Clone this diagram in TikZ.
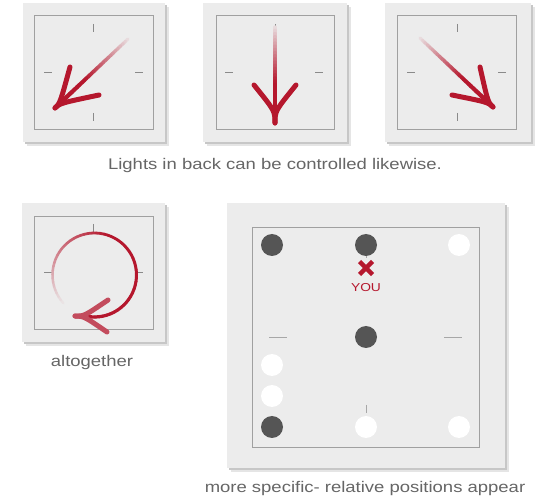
\documentclass[tikz,border=0pt]{standalone}
\usepackage{fontspec}
\setmainfont[FakeStretch=1.2]{Liberation Sans}
\usetikzlibrary{calc}
\definecolor{plate}{HTML}{ECECEC}
\definecolor{arrowred}{HTML}{B5172D}
\definecolor{txt}{HTML}{666666}
\definecolor{frame}{HTML}{A0A0A0}
\definecolor{tickc}{HTML}{8A8A8A}
\definecolor{dotdark}{HTML}{555555}
\tikzset{
  platebox/.style={fill=plate},
  shadowA/.style={fill=black!10},
  shadowB/.style={fill=black!22},
  innerbox/.style={draw=frame, line width=0.6pt},
  tickline/.style={draw=tickc, line width=0.8pt},
  armline/.style={draw=arrowred, line width=5pt, line cap=round},
  caption/.style={text=txt, font=\fontsize{15.4}{18}\selectfont, anchor=base},
  darkdot/.style={circle, fill=dotdark, minimum size=22pt, inner sep=0pt},
  whitedot/.style={circle, fill=white, minimum size=22pt, inner sep=0pt},
}
% fading straight shaft from #1 (faint) to #2 (red)
\newcommand\fadeshaft[2]{%
  \foreach \k in {0,...,29}{%
    \pgfmathsetmacro\mypc{min(100,8+\k/29*92/0.6)}%
    \pgfmathsetmacro\mylw{3.2+\k*0.04}%
    \draw[line width=\mylw pt, color=arrowred!\mypc!plate, line cap=round]
      ($(#1)!\k/30!(#2)$) -- ($(#1)!{(\k+1)/30}!(#2)$);
  }}
% barbed head: tip #2, tail #3, arm ends #4 and #5, control distance #6
\newcommand\barbs[6][]{%
  \draw[armline,#1] (#2) .. controls ($(#2)!#6!(#3)$) .. (#4);
  \draw[armline,#1] (#2) .. controls ($(#2)!#6!(#3)$) .. (#5);}
\newcommand\plateat[4]{%
  \fill[shadowA] (#1+4,#2+4) rectangle (#3+4,#4+4);
  \fill[shadowB] (#1+2,#2+2) rectangle (#3+2,#4+2);
  \fill[platebox] (#1,#2) rectangle (#3,#4);}
\begin{document}
\begin{tikzpicture}[x=1pt,y=-1pt]
\useasboundingbox[fill=white] (0,0) rectangle (550,500);

% ---------- panel 1 ----------
\plateat{23}{3}{165}{142}
\draw[innerbox] (34,15) rectangle (153,129);
\draw[tickline] (93,24) -- (93,32);
\draw[tickline] (93,113) -- (93,121);
\draw[tickline] (44,72) -- (52,72);
\draw[tickline] (135,72) -- (143,72);
\coordinate (a1s) at (128,39);
\coordinate (a1t) at (55,108);
\coordinate (a1l) at (70,67);
\coordinate (a1r) at (99,95);
\fadeshaft{a1s}{a1t}
\barbs{a1t}{a1s}{a1l}{a1r}{7pt}

% ---------- panel 2 ----------
\plateat{203}{3}{347}{142}
\draw[innerbox] (216,15) rectangle (334,129);
\draw[tickline] (225,72) -- (233,72);
\draw[tickline] (315,72) -- (323,72);
\draw[tickline] (275,24) -- (275,32);
\coordinate (a2s) at (275,27);
\coordinate (a2t) at (275,123);
\coordinate (a2l) at (254,85);
\coordinate (a2r) at (296,85);
\fadeshaft{a2s}{a2t}
\barbs{a2t}{a2s}{a2l}{a2r}{12pt}

% ---------- panel 3 ----------
\plateat{385}{3}{531}{142}
\draw[innerbox] (397,15) rectangle (516,129);
\draw[tickline] (457,24) -- (457,32);
\draw[tickline] (457,113) -- (457,121);
\draw[tickline] (407,72) -- (415,72);
\draw[tickline] (498,72) -- (506,72);
\coordinate (a3s) at (420,38);
\coordinate (a3t) at (493,107);
\coordinate (a3l) at (480,67);
\coordinate (a3r) at (452,95);
\fadeshaft{a3s}{a3t}
\barbs{a3t}{a3s}{a3l}{a3r}{7pt}

\node[caption] (cap1) at (275,170) {Lights in back can be controlled likewise.};

% ---------- panel 4 ----------
\plateat{22}{203}{165}{342}
\draw[innerbox] (34,216) rectangle (153,329);
\draw[tickline] (93,224) -- (93,232);
\draw[tickline] (44,272) -- (52,272);
\draw[tickline] (135,272) -- (143,272);
\coordinate (cc) at (94.5,275);
\foreach \k in {0,...,59}{%
  \pgfmathsetmacro\angA{138+\k*5.3667}%
  \pgfmathsetmacro\angB{138+(\k+1)*5.3667}%
  \pgfmathsetmacro\mypc{min(100,4+\k*3.5)}%
  \pgfmathsetmacro\mylw{2.4+\k*0.015}%
  \draw[line width=\mylw pt, color=arrowred!\mypc!plate, line cap=round]
    ($(cc)+(\angA:42)$) -- ($(cc)+(\angB:42)$);
}
\coordinate (c4e) at ($(cc)+(460:42)$);
\coordinate (c4t) at (75,316);
\coordinate (c4u) at (108,300);
\coordinate (c4d) at (107,332);
\draw[line width=3.2pt, color=arrowred!75!plate, line cap=round] (c4e) -- (c4t);
\barbs[draw=arrowred!75!plate]{c4t}{c4e}{c4u}{c4d}{9pt}

\node[caption] (cap2) at (92,367) {altogether};

% ---------- panel 5 ----------
\plateat{227}{203}{505}{468}
\draw[innerbox] (252,227) rectangle (479,447);
\draw[tickline, draw=tickc!70!plate] (269,337) -- (287,337);
\draw[tickline, draw=tickc!70!plate] (444,337) -- (462,337);
\draw[tickline, draw=tickc!70!plate] (366,250) -- (366,258);
\draw[tickline, draw=tickc!70!plate] (366,405) -- (366,413);
\node[darkdot] (d1) at (272,245) {};
\node[darkdot] (d2) at (366,245) {};
\node[whitedot] (d3) at (459,245) {};
\node[darkdot] (d4) at (366,337) {};
\node[whitedot] (d5) at (272,365) {};
\node[whitedot] (d6) at (272,396) {};
\node[darkdot] (d7) at (272,427) {};
\node[whitedot] (d8) at (366,427) {};
\node[whitedot] (d9) at (459,427) {};
\coordinate (xc) at (366,268);
\draw[line width=4.5pt, arrowred] ($(xc)+(-6.5,-6.5)$) -- ($(xc)+(6.5,6.5)$);
\draw[line width=4.5pt, arrowred] ($(xc)+(-6.5,6.5)$) -- ($(xc)+(6.5,-6.5)$);
\node[anchor=base, text=arrowred, font=\fontsize{11.5}{13}\selectfont] (you) at (366,291.5) {YOU};

\node[caption] (cap3) at (365,493) {more specific- relative positions appear};
\end{tikzpicture}
\end{document}
